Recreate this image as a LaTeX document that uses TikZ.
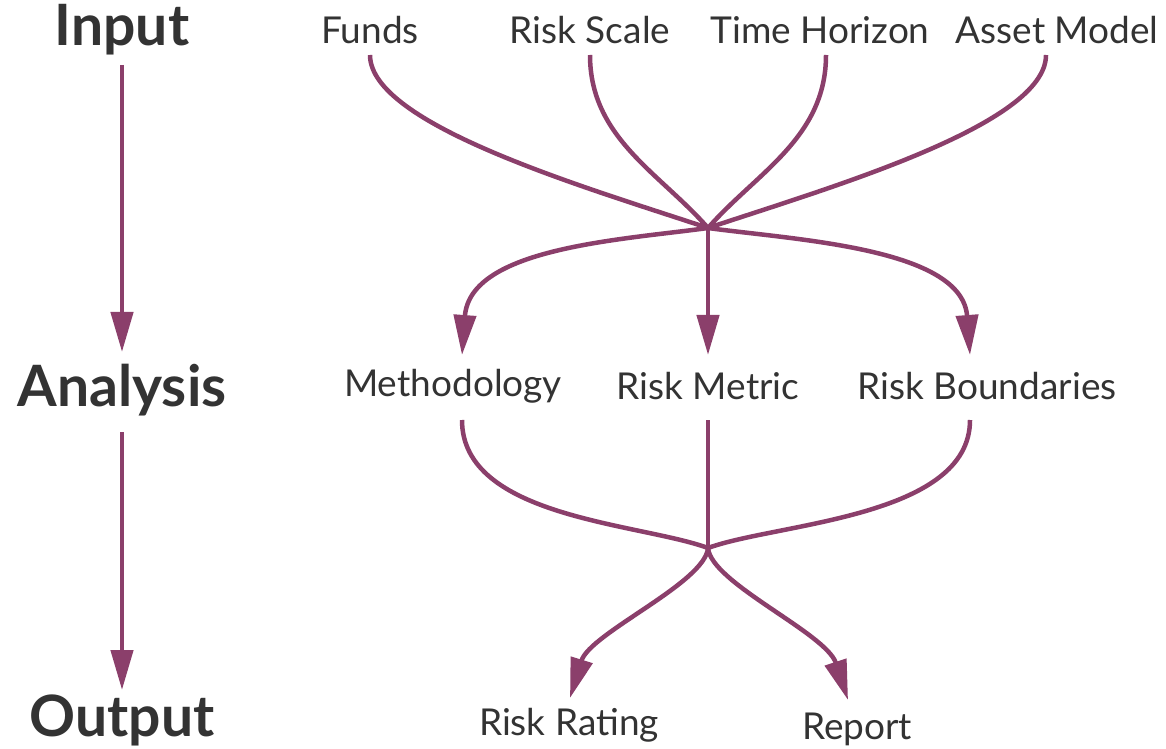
\documentclass[tikz,border=0pt]{standalone}
\usepackage{fontspec}
\setmainfont{Lato}
\usepackage{tikz}
\usetikzlibrary{arrows.meta}
\usepackage{xcolor}
\definecolor{plum}{HTML}{8B3F6B}
\definecolor{inkgray}{HTML}{333333}

\begin{document}
\begin{tikzpicture}[x=1pt,y=1pt,
		stage/.style={text=inkgray,font=\fontsize{57}{62}\selectfont\bfseries},
		item/.style={text=inkgray,font=\fontsize{37}{42}\selectfont},
		flow/.style={draw=plum,line width=4.5pt},
		tip/.style={flow,-{Triangle[length=40pt,width=22pt]}}]
			\useasboundingbox (0,0) rectangle (1166,748);
			% etapas
			\node[stage] (input) at (122,718) {Input};
			\node[stage] (analysis) at (122,358) {Analysis};
			\node[stage] (output) at (122,28) {Output};
			\coordinate (inB) at (122,683);
			\coordinate (anT) at (122,396);
			\coordinate (anB) at (122,316);
			\coordinate (outT) at (122,58);
			\draw[tip] (inB) -- (anT);
			\draw[tip] (anB) -- (outT);
			% entradas
			\node[item] (funds) at (370,718) {Funds};
			\node[item] (scale) at (590,718) {Risk Scale};
			\node[item] (horizon) at (820,718) {Time Horizon};
			\node[item] (asset) at (1057,718) {Asset Model};
			% analisis
			\node[item] (method) at (453,362) {Methodology};
			\node[item] (metric) at (708,362) {Risk Metric};
			\node[item] (bounds) at (987,362) {Risk Boundaries};
			% salidas
			\node[item] (rating) at (569,23) {Risk Rating};
			\node[item] (report) at (857,19) {Report};
			% puntos de union
			\coordinate (join1) at (708,520);
			\coordinate (join2) at (708,200);
			\draw[flow] (funds.south |- 0,693) .. controls (370,623) and (588,560) .. (join1);
			\draw[flow] (scale.south |- 0,693) .. controls (590,610) and (660,575) .. (join1);
			\draw[flow] (826,693) .. controls (826,610) and (756,575) .. (join1);
			\draw[flow] (1046,693) .. controls (1046,623) and (828,560) .. (join1);
			\draw[tip] (join1) .. controls (620,508) and (470,500) .. (462,393);
			\draw[tip] (join1) -- (metric.north |- 0,393);
			\draw[tip] (join1) .. controls (796,508) and (962,500) .. (970,393);
			\draw[flow] (462,328) .. controls (462,230) and (640,225) .. (join2);
			\draw[flow] (metric.south |- 0,328) -- (join2);
			\draw[flow] (970,328) .. controls (970,230) and (776,225) .. (join2);
			\draw[tip] (join2) .. controls (705,165) and (590,115) .. (570,50);
			\draw[tip] (join2) .. controls (711,165) and (826,115) .. (848,48);
		\end{tikzpicture}
\end{document}
